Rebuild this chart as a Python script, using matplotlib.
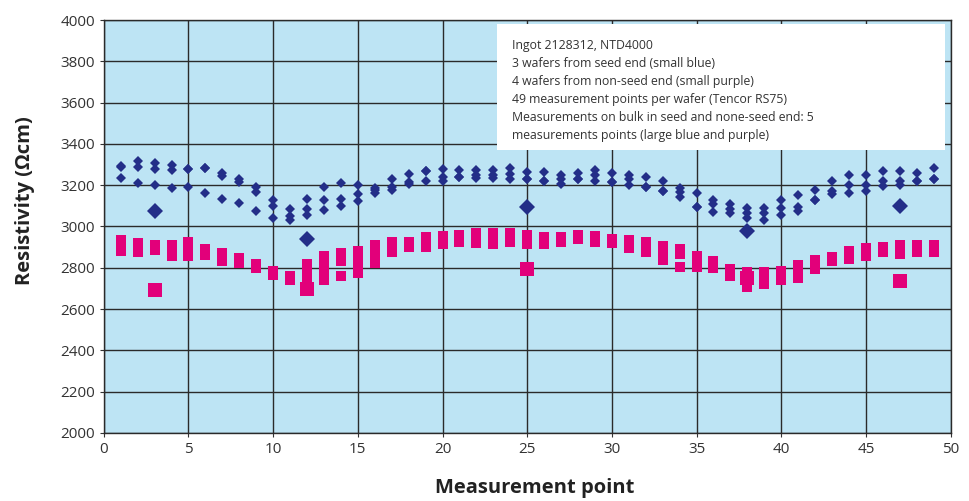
import matplotlib
matplotlib.use("Agg")
import matplotlib.pyplot as plt
from matplotlib.patches import Rectangle

plt.rcParams['font.family'] = ['Open Sans', 'DejaVu Sans']

points = list(range(1, 50))

# small blue diamonds: 3 wafers from seed end
blue_1 = [3293, 3316, 3306, 3299, 3277, 3282, 3258, 3228, 3193, 3128,
          3085, 3133, 3191, 3212, 3201, 3188, 3228, 3253, 3270, 3277,
          3274, 3274, 3274, 3282, 3263, 3263, 3251, 3258, 3274, 3258,
          3251, 3240, 3220, 3186, 3161, 3128, 3107, 3088, 3088, 3128,
          3154, 3177, 3219, 3249, 3249, 3267, 3267, 3258, 3282]
blue_2 = [3290, 3290, 3277, 3274, 3277, 3282, 3245, 3214, 3168, 3101,
          3051, 3083, 3127, 3135, 3157, 3177, 3193, 3215, 3270, 3241,
          3241, 3251, 3251, 3256, 3228, 3222, 3228, 3228, 3251, 3215,
          3228, 3193, 3172, 3165, 3094, 3111, 3083, 3064, 3064, 3088,
          3096, 3128, 3174, 3201, 3201, 3219, 3219, 3222, 3231]
blue_3 = [3236, 3211, 3200, 3185, 3193, 3161, 3133, 3114, 3075, 3043,
          3031, 3054, 3081, 3099, 3125, 3161, 3177, 3204, 3220, 3219,
          3241, 3234, 3234, 3228, 3228, 3222, 3204, 3228, 3219, 3215,
          3201, 3193, 3172, 3144, 3094, 3069, 3064, 3043, 3031, 3054,
          3074, 3128, 3157, 3164, 3174, 3197, 3203, 3222, 3231]

# small purple squares: 4 wafers from non-seed end
pink_1 = [2932, 2919, 2909, 2912, 2926, 2889, 2869, 2848, 2816, 2784,
          2758, 2816, 2855, 2869, 2880, 2912, 2927, 2927, 2947, 2952,
          2958, 2966, 2966, 2966, 2958, 2947, 2947, 2958, 2952, 2938,
          2932, 2926, 2906, 2889, 2855, 2833, 2796, 2781, 2781, 2784,
          2811, 2838, 2850, 2880, 2894, 2899, 2908, 2912, 2908]
pink_2 = [2915, 2905, 2902, 2893, 2903, 2880, 2858, 2839, 2810, 2777,
          2752, 2793, 2825, 2850, 2845, 2860, 2910, 2918, 2931, 2939,
          2948, 2950, 2949, 2952, 2943, 2936, 2940, 2951, 2944, 2932,
          2919, 2909, 2883, 2878, 2838, 2821, 2783, 2756, 2761, 2769,
          2791, 2823, 2845, 2867, 2881, 2892, 2895, 2900, 2897]
pink_3 = [2898, 2890, 2894, 2875, 2879, 2871, 2846, 2831, 2804, 2771,
          2746, 2770, 2780, 2835, 2810, 2840, 2893, 2908, 2915, 2927,
          2937, 2935, 2931, 2938, 2929, 2925, 2934, 2945, 2935, 2925,
          2907, 2893, 2859, 2868, 2820, 2810, 2771, 2731, 2741, 2755,
          2771, 2807, 2840, 2854, 2869, 2885, 2881, 2888, 2887]
pink_4 = [2880, 2876, 2887, 2856, 2856, 2862, 2835, 2822, 2798, 2764,
          2740, 2747, 2742, 2762, 2773, 2825, 2876, 2899, 2899, 2914,
          2927, 2919, 2914, 2924, 2914, 2914, 2927, 2938, 2927, 2919,
          2894, 2876, 2836, 2803, 2803, 2798, 2759, 2706, 2721, 2740,
          2751, 2792, 2835, 2841, 2856, 2878, 2868, 2876, 2876]

# bulk measurements (large markers)
bulk_points = [3, 12, 25, 38, 47]
bulk_seed = [3075, 2939, 3094, 2980, 3101]
bulk_nonseed = [2694, 2697, 2796, 2750, 2738]

note_lines = [
    "Ingot 2128312, NTD4000",
    "3 wafers from seed end (small blue)",
    "4 wafers from non-seed end (small purple)",
    "49 measurement points per wafer (Tencor RS75)",
    "Measurements on bulk in seed and none-seed end: 5",
    "measurements points (large blue and purple)",
]

blue = '#232e88'
pink = '#e2007a'

fig = plt.figure(figsize=(9.7, 5.01), dpi=100)
ax = fig.add_axes([0.107, 0.136, 0.873, 0.824])
ax.set_facecolor('#bde4f4')

for ys in (pink_1, pink_2, pink_3, pink_4):
    ax.plot(points, ys, 's', color=pink, ms=6.5, mew=0, zorder=3)
for ys in (blue_1, blue_2, blue_3):
    ax.plot(points, ys, 'D', color=blue, ms=5, mew=0, zorder=4)
ax.plot(bulk_points, bulk_nonseed, 's', color=pink, ms=10, mew=0, zorder=5)
ax.plot(bulk_points, bulk_seed, 'D', color=blue, ms=8, mew=0, zorder=5)

ax.set_xlim(0, 50)
ax.set_ylim(2000, 4000)
ax.set_xticks(range(0, 51, 5))
ax.set_yticks(range(2000, 4001, 200))
ax.grid(True, color='#2a2a2a', lw=1.0, zorder=1)
ax.set_axisbelow(True)
for s in ax.spines.values():
    s.set_color('#2a2a2a')
    s.set_linewidth(1.0)
ax.tick_params(axis='both', labelsize=11, colors='#333333', length=3,
               labelcolor='#333333')

ax.set_xlabel('Measurement point', fontsize=14.5, fontweight='bold',
              color='#222222', labelpad=15)
ax.set_ylabel('Resistivity (\u03a9cm)', fontsize=14.5, fontweight='bold',
              color='#222222', labelpad=18)
ax.xaxis.label.set_x(0.509)
ax.yaxis.label.set_y(0.562)

# note box
ax.add_patch(Rectangle((0.464, 0.685), 0.529, 0.305, transform=ax.transAxes,
                       facecolor='white', edgecolor='none', zorder=6))
ax.text(0.482, 0.953, "\n".join(note_lines), transform=ax.transAxes,
        fontsize=8.8, color='#333333', va='top', ha='left',
        linespacing=1.5, zorder=7)

fig.savefig('out.png', dpi=100)
